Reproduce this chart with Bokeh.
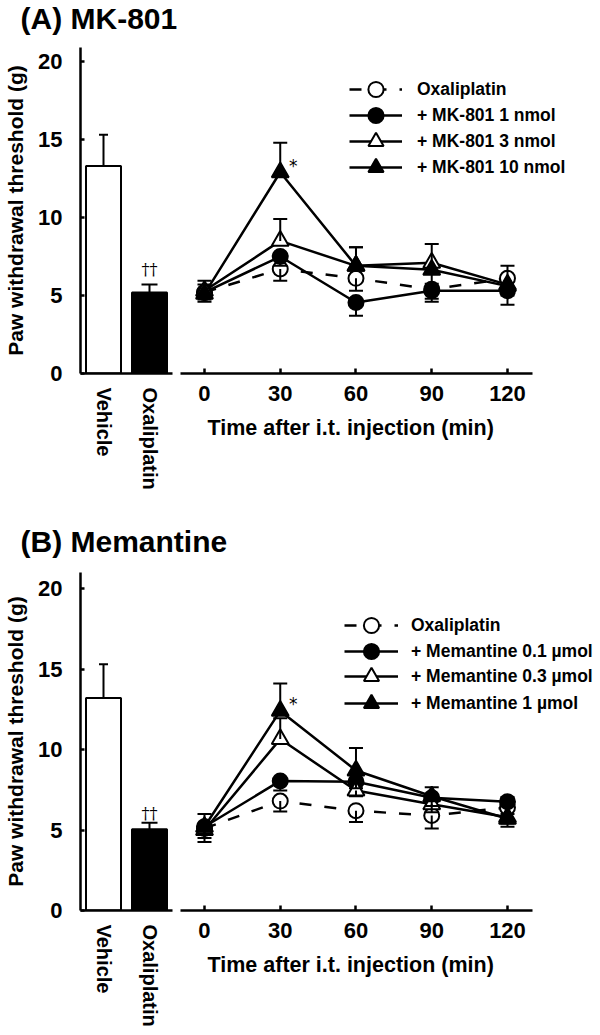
from bokeh.plotting import figure
from bokeh.models import Range1d, FactorRange, Label, Legend, LegendItem, FixedTicker, Title
from bokeh.layouts import column, row
from bokeh.embed import file_html
from bokeh.resources import INLINE
from bokeh.core.properties import value

FONT = "Liberation Sans"

groups = ["Vehicle", "Oxaliplatin"]
times = [0, 30, 60, 90, 120]
y_ticks = [0, 5, 10, 15, 20]
x_label = "Time after i.t. injection (min)"
y_label = "Paw withdrawal threshold (g)"

# ---------------- Panel A: MK-801 ----------------
a_title = "(A) MK-801"
a_bar_mean = [13.3, 5.2]
a_bar_sem = [2.0, 0.5]
a_labels = ["Oxaliplatin", "+ MK-801 1 nmol", "+ MK-801 3 nmol", "+ MK-801 10 nmol"]
a_oxali = [5.2, 6.7, 6.1, 5.4, 6.1]
a_mk1 = [5.2, 7.5, 4.55, 5.3, 5.3]
a_mk3 = [5.3, 8.5, 6.9, 7.1, 5.7]
a_mk10 = [5.1, 12.9, 6.9, 6.65, 5.6]
a_oxali_sem = [0.6, 0.75, 0.8, 0.6, 0.8]
a_mk1_sem = [0.45, 0.6, 0.85, 0.7, 0.9]
a_mk3_sem = [0.65, 1.4, 1.2, 1.2, 0.5]
a_mk10_sem = [0.6, 1.9, 1.2, 0.9, 0.6]
# side on which each error bar is drawn (+1 above the mean, -1 below)
a_oxali_dir = [-1, -1, -1, -1, 1]
a_mk1_dir = [-1, -1, -1, -1, -1]
a_mk3_dir = [1, 1, 1, 1, -1]
a_mk10_dir = [1, 1, 1, -1, -1]
a_sig_bar = "\u2020\u2020"
a_sig_time = 30
a_sig_text = "*"

# ---------------- Panel B: Memantine ----------------
b_title = "(B) Memantine"
b_bar_mean = [13.2, 5.05]
b_bar_sem = [2.1, 0.4]
b_labels = ["Oxaliplatin", "+ Memantine 0.1 \u00b5mol", "+ Memantine 0.3 \u00b5mol", "+ Memantine 1 \u00b5mol"]
b_oxali = [5.1, 6.8, 6.2, 5.9, 6.4]
b_mem01 = [5.2, 8.05, 8.0, 7.0, 6.75]
b_mem03 = [5.0, 10.65, 7.45, 6.6, 5.8]
b_mem1 = [5.2, 12.4, 8.7, 7.1, 5.7]
b_oxali_sem = [0.85, 0.65, 0.7, 0.8, 0.4]
b_mem01_sem = [0.4, 0.6, 0.4, 0.65, 0.3]
b_mem03_sem = [0.5, 1.3, 0.35, 0.5, 0.4]
b_mem1_sem = [0.8, 1.7, 1.4, 0.6, 0.5]
b_oxali_dir = [-1, -1, -1, -1, -1]
b_mem01_dir = [-1, -1, -1, 1, 1]
b_mem03_dir = [-1, 1, -1, -1, -1]
b_mem1_dir = [1, 1, 1, -1, -1]
b_sig_bar = "\u2020\u2020"
b_sig_time = 30
b_sig_text = "*"

# styles of the four time-course series
MARKERS = ["circle", "circle", "triangle", "triangle"]
FILLS = ["white", "black", "white", "black"]
SIZES = [15, 15, 17, 17]
DASHES = ["12 13", "solid", "solid", "solid"]

PX_PER_MIN = 2.525
T_START = -9.5
T_AXIS_END = 129.9


def style_axis(ax, tick_in):
    ax.axis_line_width = 2.5
    ax.axis_line_color = "black"
    ax.major_tick_line_width = 2.5
    ax.major_tick_line_color = "black"
    ax.major_tick_in = tick_in
    ax.major_tick_out = 0
    ax.minor_tick_in = 0
    ax.minor_tick_out = 0
    ax.major_label_text_font = FONT
    ax.major_label_text_font_style = "bold"
    ax.major_label_text_color = "black"
    ax.axis_label_text_font = FONT
    ax.axis_label_text_font_style = "bold"
    ax.axis_label_text_color = "black"


def title_fig(text, h, base):
    t = figure(width=600, height=h, x_range=Range1d(0, 1), y_range=Range1d(0, 1),
               toolbar_location=None, output_backend="svg", min_border=0, title=None,
               x_axis_location=None, y_axis_location=None, outline_line_color=None)
    t.xgrid.visible = False
    t.ygrid.visible = False
    t.add_layout(Label(x=20, y=base, x_units="screen", y_units="screen", text=text,
                       text_font=FONT, text_font_style="bold", text_font_size="30px",
                       text_baseline="alphabetic", text_color="black"))
    return t


def make_panel(bar_mean, bar_sem, sig_bar, labels, series, sems, dirs,
               sig_time, sig_text, g):
    yr = Range1d(0, g["ymax"])
    H = g["top"] + g["frame_h"] + g["bottom"]

    # ---- bar chart ----
    b = figure(width=180, height=H, x_range=FactorRange(*groups), y_range=yr,
               toolbar_location=None, output_backend="svg", title=None,
               min_border_left=80, min_border_right=8,
               min_border_top=g["top"], min_border_bottom=g["bottom"],
               outline_line_color=None)
    b.xgrid.visible = False
    b.ygrid.visible = False
    b.vbar(x=groups, top=bar_mean, width=0.76, fill_color=["white", "black"],
           line_color="black", line_width=2)
    tops = [m + s for m, s in zip(bar_mean, bar_sem)]
    b.segment(x0=groups, y0=bar_mean, x1=groups, y1=tops, line_color="black", line_width=2)
    b.scatter(x=groups, y=tops, marker="dash", size=[9, 16], line_color="black", line_width=2)
    b.text(x=[groups[1]], y=[tops[1]], text=[sig_bar], text_font=value("DejaVu Serif"),
           text_font_size="16px", text_align="center", text_baseline="middle",
           y_offset=-g["dag_off"], text_color="#000000")
    style_axis(b.yaxis[0], 4)
    b.yaxis.ticker = FixedTicker(ticks=y_ticks)
    b.yaxis.major_label_text_font_size = "22px"
    b.yaxis.major_label_standoff = 18
    b.yaxis.axis_label = y_label
    b.yaxis.axis_label_text_font_size = "21px"
    b.yaxis.axis_label_standoff = 8
    style_axis(b.xaxis[0], 0)
    b.xaxis.major_label_orientation = "vertical"
    b.xaxis.major_label_text_font_size = "20px"
    b.xaxis.major_label_standoff = 14

    # ---- time course ----
    frame_w = 600 - 180
    p = figure(width=frame_w, height=H,
               x_range=Range1d(T_START, T_START + frame_w / PX_PER_MIN), y_range=yr,
               toolbar_location=None, output_backend="svg", y_axis_location=None,
               title=None, min_border_left=0, min_border_right=0,
               min_border_top=g["top"], min_border_bottom=g["bottom"],
               outline_line_color=None)
    p.xgrid.visible = False
    p.ygrid.visible = False
    line_rs = []
    for k, vals in enumerate(series):
        line_rs.append(p.line(times, vals, line_color="black", line_width=2.5,
                              line_dash=DASHES[k]))
    mark_rs = []
    for k, vals in enumerate(series):
        mark_rs.append(p.scatter(times, vals, marker=MARKERS[k], size=SIZES[k],
                                 fill_color=FILLS[k], line_color="black", line_width=2))
    for k, vals in enumerate(series):
        ends = [v + d * s for v, s, d in zip(vals, sems[k], dirs[k])]
        p.segment(x0=times, y0=vals, x1=times, y1=ends, line_color="black", line_width=2)
        p.scatter(times, ends, marker="dash", size=14, line_color="black", line_width=2)
    top_series = series[3]
    p.text(x=[sig_time], y=[top_series[times.index(sig_time)]], text=[sig_text],
           text_font=value("DejaVu Sans"), text_font_size="17px", text_align="center",
           text_baseline="middle", x_offset=13, y_offset=g["ast_off"], text_color="black")
    style_axis(p.xaxis[0], 5)
    p.xaxis.bounds = (T_START, T_AXIS_END)
    p.xaxis.ticker = FixedTicker(ticks=times)
    p.xaxis.major_label_text_font_size = "22px"
    p.xaxis.major_label_standoff = 12
    # axis title, left-aligned under the bounded axis line
    p.add_layout(Title(text=x_label, align="left", offset=27, standoff=21,
                       text_font=FONT, text_font_style="bold", text_font_size="21.5px",
                       text_color="black"), "below")

    # one legend per entry, so the rows can sit closer than the glyph box height
    for k in range(4):
        item = LegendItem(label=labels[k], renderers=[line_rs[k], mark_rs[k]])
        leg = Legend(items=[item], location=(g["leg_x"], g["leg_y"][k]), padding=0, margin=0,
                     border_line_color=None, background_fill_alpha=0,
                     glyph_width=g["glyph_w"], glyph_height=38, label_height=38,
                     spacing=0, label_standoff=g["standoff"],
                     label_text_font=FONT, label_text_font_style="bold",
                     label_text_font_size="17.5px", label_text_color="black")
        p.add_layout(leg)
    return row(b, p, spacing=0)


geoA = dict(ymax=20.9, frame_h=330, top=9, bottom=115, leg_x=169,
            leg_y=[265, 239, 213, 187], glyph_w=53, standoff=15, dag_off=15, ast_off=-6)
geoB = dict(ymax=21.0, frame_h=341, top=9, bottom=116, leg_x=164,
            leg_y=[266, 240, 215, 188], glyph_w=54, standoff=13, dag_off=9, ast_off=-7)

panelA = make_panel(a_bar_mean, a_bar_sem, a_sig_bar, a_labels,
                    [a_oxali, a_mk1, a_mk3, a_mk10],
                    [a_oxali_sem, a_mk1_sem, a_mk3_sem, a_mk10_sem],
                    [a_oxali_dir, a_mk1_dir, a_mk3_dir, a_mk10_dir],
                    a_sig_time, a_sig_text, geoA)
panelB = make_panel(b_bar_mean, b_bar_sem, b_sig_bar, b_labels,
                    [b_oxali, b_mem01, b_mem03, b_mem1],
                    [b_oxali_sem, b_mem01_sem, b_mem03_sem, b_mem1_sem],
                    [b_oxali_dir, b_mem01_dir, b_mem03_dir, b_mem1_dir],
                    b_sig_time, b_sig_text, geoB)

page = column(title_fig(a_title, 38, 20), panelA, title_fig(b_title, 71, 22), panelB, spacing=0)

with open("out.html", "w") as f:
    f.write(file_html(page, INLINE))
